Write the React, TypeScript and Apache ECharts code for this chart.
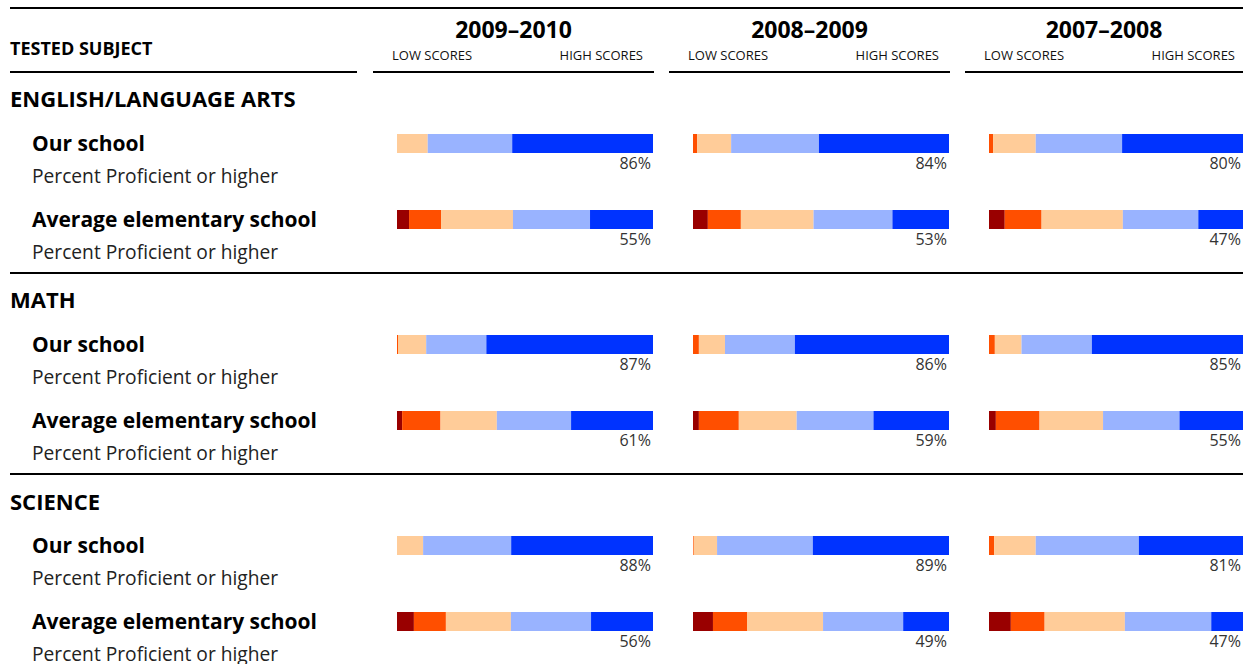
import React, { useEffect, useRef } from "react";
import * as echarts from "echarts";

// ---- data ----
const years = ["2009–2010", "2008–2009", "2007–2008"];
const subjects = ["ENGLISH/LANGUAGE ARTS", "MATH", "SCIENCE"];
const groups = ["Our school", "Average elementary school"];
const subLabel = "Percent Proficient or higher";
const levels = ["Far Below Basic", "Below Basic", "Basic", "Proficient", "Advanced"];
const levelColors = ["#990000", "#FF4F00", "#FFCC99", "#99B3FF", "#0033FF"];

// per year (2009–10, 2008–09, 2007–08): [far below, below, basic, proficient, advanced]
const englishOur = [[0, 0, 12, 33, 55], [0, 1.6, 13.3, 34.3, 50.8], [0, 1.6, 16.8, 34, 47.6]];
const englishAvg = [[4.7, 12.5, 28.1, 30.1, 24.6], [5.8, 12.9, 28.4, 30.8, 22.1], [6.2, 14.5, 32, 29.7, 17.6]];
const mathOur = [[0, 0.4, 11, 23.5, 65.1], [0, 2.3, 10.2, 27.3, 60.2], [0, 2.3, 10.5, 27.7, 59.5]];
const mathAvg = [[2, 15, 22, 29, 32], [2.3, 15.6, 22.6, 30, 29.5], [2.7, 17.2, 25, 30.1, 25]];
const scienceOur = [[0, 0, 10.2, 34.4, 55.4], [0, 0.3, 9.1, 37.4, 53.2], [0, 2, 16.4, 40.6, 41]];
const scienceAvg = [[6.6, 12.5, 25.4, 31.3, 24.2], [7.8, 13.3, 29.7, 31.3, 17.9], [8.6, 13.3, 31.6, 34, 12.5]];

// percent proficient or higher labels, per year
const englishOurPct = [86, 84, 80];
const englishAvgPct = [55, 53, 47];
const mathOurPct = [87, 86, 85];
const mathAvgPct = [61, 59, 55];
const scienceOurPct = [88, 89, 81];
const scienceAvgPct = [56, 49, 47];

const subjectData = [
  [englishOur, englishAvg],
  [mathOur, mathAvg],
  [scienceOur, scienceAvg],
];
const subjectPct = [
  [englishOurPct, englishAvgPct],
  [mathOurPct, mathAvgPct],
  [scienceOurPct, scienceAvgPct],
];

// ---- layout ----
const W = 1243;
const H = 664;
const FONT = '"Open Sans", "Noto Sans", sans-serif';
const colLeft = [397, 693, 989];
const barSpan = 256;
const sectionTop = [105.5, 306.5, 507.5];
const sectionHeight = 152;
const sectionTitleY = [98, 299, 501];
const separatorY = [273, 474];

export default function App() {
  const ref = useRef<HTMLDivElement>(null);

  useEffect(() => {
    if (!ref.current) return;
    const chart = echarts.init(ref.current, null, { renderer: "svg" });

    const grids: any[] = [];
    const xAxes: any[] = [];
    const yAxes: any[] = [];
    const series: any[] = [];

    subjects.forEach((_, s) => {
      years.forEach((__, c) => {
        const gi = grids.length;
        grids.push({
          left: colLeft[c],
          top: sectionTop[s],
          width: barSpan,
          height: sectionHeight,
          containLabel: false,
        });
        xAxes.push({
          type: "value",
          gridIndex: gi,
          min: 0,
          max: 100,
          show: false,
        });
        yAxes.push({
          type: "category",
          gridIndex: gi,
          data: groups,
          inverse: true,
          show: c === 0,
          axisLine: { show: false },
          axisTick: { show: false },
          splitLine: { show: false },
          axisLabel: {
            show: c === 0,
            align: "left",
            margin: colLeft[0] - 32,
            verticalAlign: "middle",
            padding: [31, 0, 0, 0],
            formatter: (v: string) => `{a|${v}}\n{b|${subLabel}}`,
            rich: {
              a: {
                fontFamily: FONT,
                fontWeight: "bold",
                fontSize: 21,
                lineHeight: 32,
                color: "#000",
              },
              b: {
                fontFamily: FONT,
                fontSize: 19.2,
                lineHeight: 32,
                color: "#222",
              },
            },
          },
        });
        levels.forEach((lvl, k) => {
          const isLast = k === levels.length - 1;
          series.push({
            type: "bar",
            name: lvl,
            xAxisIndex: gi,
            yAxisIndex: gi,
            stack: "s" + gi,
            barWidth: 19,
            itemStyle: { color: levelColors[k] },
            data: groups.map((g, r) => subjectData[s][r][c][k]),
            label: isLast
              ? {
                  show: true,
                  position: ["100%", "100%"],
                  align: "right",
                  verticalAlign: "top",
                  offset: [-2, 2],
                  fontFamily: FONT,
                  fontSize: 16,
                  lineHeight: 16,
                  color: "#333",
                  formatter: (p: any) => `${subjectPct[s][p.dataIndex][c]}%`,
                }
              : { show: false },
            emphasis: { disabled: true },
          });
        });
      });
    });

    const txt = (
      text: string,
      x: number,
      y: number,
      size: number,
      weight: string,
      align: string,
      color = "#000"
    ) => ({
      type: "text",
      x,
      y,
      silent: true,
      style: {
        text,
        fill: color,
        font: `${weight} ${size}px ${FONT}`,
        textAlign: align,
        textVerticalAlign: "middle",
        align,
        verticalAlign: "middle",
      },
    });
    const line = (x1: number, y1: number, x2: number, y2: number) => ({
      type: "line",
      silent: true,
      shape: { x1, y1, x2, y2 },
      style: { stroke: "#000", lineWidth: 2 },
    });

    const graphics: any[] = [];
    graphics.push(line(10, 8, W, 8));
    graphics.push(line(10, 72, 357, 72));
    graphics.push(txt("TESTED SUBJECT", 10, 48, 18, "bold", "left"));
    years.forEach((y, c) => {
      const ls = colLeft[c] - 24;
      const le = Math.min(colLeft[c] + barSpan + 1, W);
      graphics.push(line(ls, 72, le, 72));
      graphics.push(txt(y, (ls + le) / 2, 29, 23, "bold", "center"));
      graphics.push(txt("LOW SCORES", colLeft[c] - 5, 55, 13, "normal", "left", "#111"));
      graphics.push(
        txt("HIGH SCORES", Math.min(colLeft[c] + barSpan - 10, W - 7), 55, 13, "normal", "right", "#111")
      );
    });
    subjects.forEach((sub, s) => {
      graphics.push(txt(sub, 10, sectionTitleY[s], 22, "bold", "left"));
    });
    separatorY.forEach((y) => graphics.push(line(10, y, W, y)));

    chart.setOption({
      animation: false,
      backgroundColor: "#fff",
      textStyle: { fontFamily: FONT },
      grid: grids,
      xAxis: xAxes,
      yAxis: yAxes,
      series,
      graphic: graphics,
    });

    return () => chart.dispose();
  }, []);

  return (
    <div
      ref={ref}
      style={{ position: "absolute", left: 0, top: 0, width: W, height: H }}
    />
  );
}
